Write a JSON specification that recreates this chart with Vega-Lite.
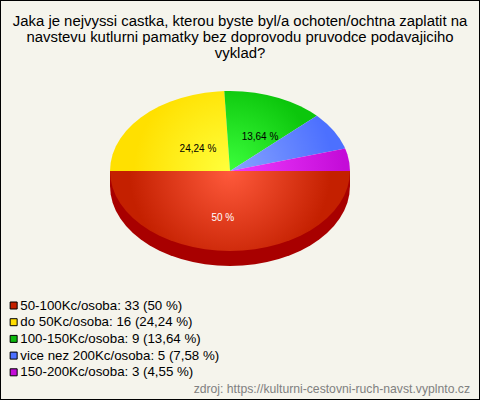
{
"$schema":"https://vega.github.io/schema/vega-lite/v6.json",
"width":480,"height":400,"padding":0,"autosize":"none",
"background":"#f5f4ec",
"config":{"view":{"stroke":"#000","strokeWidth":2},"font":"Liberation Sans"},
"title":{"text":["Jaka je nejvyssi castka, kterou byste byl/a ochoten/ochtna zaplatit na","navstevu kutlurni pamatky bez doprovodu pruvodce podavajiciho","vyklad?"],"anchor":"middle","frame":"group","offset":-61,"fontSize":14.9,"fontWeight":"normal","font":"Liberation Sans","color":"#000","lineHeight":16},
"datasets":{
"slices":[
{"slice":"a","name":"50-100Kc/osoba: 33 (50 %)","count":33,"pct":"50 %","u":-0.06,"v":-0.59},
{"slice":"b","name":"do 50Kc/osoba: 16 (24,24 %)","count":16,"pct":"24,24 %","u":-0.267,"v":0.275},
{"slice":"c","name":"100-150Kc/osoba: 9 (13,64 %)","count":9,"pct":"13,64 %","u":0.25,"v":0.425},
{"slice":"d","name":"vice nez 200Kc/osoba: 5 (7,58 %)","count":5,"pct":"","u":0.6,"v":0.2},
{"slice":"e","name":"150-200Kc/osoba: 3 (4,55 %)","count":3,"pct":"","u":0.7,"v":0.06}
],
"source":[{"t":"zdroj: https://kulturni-cestovni-ruch-navst.vyplnto.cz","u":2.0,"v":-2.73}],
"outline":[
{"s":"side","o":0,"u":-1,"v":0},{"s":"side","o":1,"u":-1,"v":-0.1875},{"s":"side","o":2,"u":-0.9945,"v":-0.292},{"s":"side","o":3,"u":-0.9781,"v":-0.3954},{"s":"side","o":4,"u":-0.9511,"v":-0.4965},{"s":"side","o":5,"u":-0.9135,"v":-0.5942},{"s":"side","o":6,"u":-0.866,"v":-0.6875},{"s":"side","o":7,"u":-0.809,"v":-0.7753},{"s":"side","o":8,"u":-0.7431,"v":-0.8566},{"s":"side","o":9,"u":-0.6691,"v":-0.9306},{"s":"side","o":10,"u":-0.5878,"v":-0.9965},{"s":"side","o":11,"u":-0.5,"v":-1.0535},{"s":"side","o":12,"u":-0.4067,"v":-1.101},{"s":"side","o":13,"u":-0.309,"v":-1.1386},{"s":"side","o":14,"u":-0.2079,"v":-1.1656},{"s":"side","o":15,"u":-0.1045,"v":-1.182},{"s":"side","o":16,"u":0,"v":-1.1875},{"s":"side","o":17,"u":0.1045,"v":-1.182},{"s":"side","o":18,"u":0.2079,"v":-1.1656},{"s":"side","o":19,"u":0.309,"v":-1.1386},{"s":"side","o":20,"u":0.4067,"v":-1.101},{"s":"side","o":21,"u":0.5,"v":-1.0535},{"s":"side","o":22,"u":0.5878,"v":-0.9965},{"s":"side","o":23,"u":0.6691,"v":-0.9306},{"s":"side","o":24,"u":0.7431,"v":-0.8566},{"s":"side","o":25,"u":0.809,"v":-0.7753},{"s":"side","o":26,"u":0.866,"v":-0.6875},{"s":"side","o":27,"u":0.9135,"v":-0.5942},{"s":"side","o":28,"u":0.9511,"v":-0.4965},{"s":"side","o":29,"u":0.9781,"v":-0.3954},{"s":"side","o":30,"u":0.9945,"v":-0.292},{"s":"side","o":31,"u":1,"v":-0.1875},{"s":"side","o":32,"u":1,"v":0},
{"s":"a","o":0,"u":-1,"v":0},{"s":"a","o":1,"u":-0.9945,"v":-0.1045},{"s":"a","o":2,"u":-0.9781,"v":-0.2079},{"s":"a","o":3,"u":-0.9511,"v":-0.309},{"s":"a","o":4,"u":-0.9135,"v":-0.4067},{"s":"a","o":5,"u":-0.866,"v":-0.5},{"s":"a","o":6,"u":-0.809,"v":-0.5878},{"s":"a","o":7,"u":-0.7431,"v":-0.6691},{"s":"a","o":8,"u":-0.6691,"v":-0.7431},{"s":"a","o":9,"u":-0.5878,"v":-0.809},{"s":"a","o":10,"u":-0.5,"v":-0.866},{"s":"a","o":11,"u":-0.4067,"v":-0.9135},{"s":"a","o":12,"u":-0.309,"v":-0.9511},{"s":"a","o":13,"u":-0.2079,"v":-0.9781},{"s":"a","o":14,"u":-0.1045,"v":-0.9945},{"s":"a","o":15,"u":0,"v":-1},{"s":"a","o":16,"u":0.1045,"v":-0.9945},{"s":"a","o":17,"u":0.2079,"v":-0.9781},{"s":"a","o":18,"u":0.309,"v":-0.9511},{"s":"a","o":19,"u":0.4067,"v":-0.9135},{"s":"a","o":20,"u":0.5,"v":-0.866},{"s":"a","o":21,"u":0.5878,"v":-0.809},{"s":"a","o":22,"u":0.6691,"v":-0.7431},{"s":"a","o":23,"u":0.7431,"v":-0.6691},{"s":"a","o":24,"u":0.809,"v":-0.5878},{"s":"a","o":25,"u":0.866,"v":-0.5},{"s":"a","o":26,"u":0.9135,"v":-0.4067},{"s":"a","o":27,"u":0.9511,"v":-0.309},{"s":"a","o":28,"u":0.9781,"v":-0.2079},{"s":"a","o":29,"u":0.9945,"v":-0.1045},{"s":"a","o":30,"u":1,"v":0},
{"s":"b","o":0,"u":0,"v":0},{"s":"b","o":1,"u":-0.0476,"v":0.9989},{"s":"b","o":2,"u":-0.1045,"v":0.9945},{"s":"b","o":3,"u":-0.2079,"v":0.9781},{"s":"b","o":4,"u":-0.309,"v":0.9511},{"s":"b","o":5,"u":-0.4067,"v":0.9135},{"s":"b","o":6,"u":-0.5,"v":0.866},{"s":"b","o":7,"u":-0.5878,"v":0.809},{"s":"b","o":8,"u":-0.6691,"v":0.7431},{"s":"b","o":9,"u":-0.7431,"v":0.6691},{"s":"b","o":10,"u":-0.809,"v":0.5878},{"s":"b","o":11,"u":-0.866,"v":0.5},{"s":"b","o":12,"u":-0.9135,"v":0.4067},{"s":"b","o":13,"u":-0.9511,"v":0.309},{"s":"b","o":14,"u":-0.9781,"v":0.2079},{"s":"b","o":15,"u":-0.9945,"v":0.1045},{"s":"b","o":16,"u":-1,"v":0},
{"s":"c","o":0,"u":0,"v":0},{"s":"c","o":1,"u":0.7237,"v":0.6901},{"s":"c","o":2,"u":0.6691,"v":0.7431},{"s":"c","o":3,"u":0.5878,"v":0.809},{"s":"c","o":4,"u":0.5,"v":0.866},{"s":"c","o":5,"u":0.4067,"v":0.9135},{"s":"c","o":6,"u":0.309,"v":0.9511},{"s":"c","o":7,"u":0.2079,"v":0.9781},{"s":"c","o":8,"u":0.1045,"v":0.9945},{"s":"c","o":9,"u":0,"v":1},{"s":"c","o":10,"u":-0.0476,"v":0.9989},
{"s":"d","o":0,"u":0,"v":0},{"s":"d","o":1,"u":0.9595,"v":0.2817},{"s":"d","o":2,"u":0.9511,"v":0.309},{"s":"d","o":3,"u":0.9135,"v":0.4067},{"s":"d","o":4,"u":0.866,"v":0.5},{"s":"d","o":5,"u":0.809,"v":0.5878},{"s":"d","o":6,"u":0.7431,"v":0.6691},{"s":"d","o":7,"u":0.7237,"v":0.6901},
{"s":"e","o":0,"u":0,"v":0},{"s":"e","o":1,"u":1,"v":0},{"s":"e","o":2,"u":0.9945,"v":0.1045},{"s":"e","o":3,"u":0.9781,"v":0.2079},{"s":"e","o":4,"u":0.9595,"v":0.2817}
]},
"encoding":{
"x":{"field":"u","type":"quantitative","axis":null,"scale":{"domain":[-1.91667,2.08333],"nice":false,"zero":false}},
"y":{"field":"v","type":"quantitative","axis":null,"scale":{"domain":[-2.8625,2.1375],"nice":false,"zero":false}}
},
"layer":[
{"data":{"name":"outline"},"transform":[{"filter":"datum.s==='side'"}],"mark":{"type":"line","fill":"#a80000","stroke":null,"clip":false},"encoding":{"order":{"field":"o","type":"quantitative"}}},
{"data":{"name":"outline"},"transform":[{"filter":"datum.s==='a'"}],"mark":{"type":"line","stroke":null,"fill":{"gradient":"radial","x1":0.5,"y1":0.333,"r1":0,"x2":0.5,"y2":0.333,"r2":0.42,"stops":[{"offset":0,"color":"#ff5a3c"},{"offset":1,"color":"#c42000"}]}},"encoding":{"order":{"field":"o","type":"quantitative"}}},
{"data":{"name":"outline"},"transform":[{"filter":"datum.s==='b'"}],"mark":{"type":"line","stroke":null,"fill":{"gradient":"radial","x1":1,"y1":0.833,"r1":0,"x2":1,"y2":0.833,"r2":0.8,"stops":[{"offset":0,"color":"#ffff3c"},{"offset":1,"color":"#ffe000"}]}},"encoding":{"order":{"field":"o","type":"quantitative"}}},
{"data":{"name":"outline"},"transform":[{"filter":"datum.s==='c'"}],"mark":{"type":"line","stroke":null,"fill":{"gradient":"radial","x1":0.0616,"y1":0.932,"r1":0,"x2":0.0616,"y2":0.932,"r2":0.95,"stops":[{"offset":0,"color":"#3cff3c"},{"offset":1,"color":"#0cc60c"}]}},"encoding":{"order":{"field":"o","type":"quantitative"}}},
{"data":{"name":"outline"},"transform":[{"filter":"datum.s==='d'"}],"mark":{"type":"line","stroke":null,"fill":{"gradient":"radial","x1":0,"y1":0.74,"r1":0,"x2":0,"y2":0.74,"r2":0.9,"stops":[{"offset":0,"color":"#88a4ff"},{"offset":1,"color":"#4c70ff"}]}},"encoding":{"order":{"field":"o","type":"quantitative"}}},
{"data":{"name":"outline"},"transform":[{"filter":"datum.s==='e'"}],"mark":{"type":"line","stroke":null,"fill":{"gradient":"radial","x1":0,"y1":0.594,"r1":0,"x2":0,"y2":0.594,"r2":0.95,"stops":[{"offset":0,"color":"#f03cff"},{"offset":1,"color":"#c40cd8"}]}},"encoding":{"order":{"field":"o","type":"quantitative"}}},
{"data":{"name":"slices"},"mark":{"type":"point","filled":true,"opacity":0},"encoding":{"color":{"field":"name","type":"nominal","scale":{"domain":["50-100Kc/osoba: 33 (50 %)","do 50Kc/osoba: 16 (24,24 %)","100-150Kc/osoba: 9 (13,64 %)","vice nez 200Kc/osoba: 5 (7,58 %)","150-200Kc/osoba: 3 (4,55 %)"],"range":["#c42000","#ffdd00","#0cb80c","#4c70ff","#c40cd8"]},"legend":{"title":null,"orient":"none","legendX":7,"legendY":299,"symbolType":"square","symbolSize":49,"symbolOpacity":1,"symbolStrokeColor":"#000","symbolStrokeWidth":1,"labelFont":"Liberation Sans","labelFontSize":13.3,"labelColor":"#000","labelLimit":400,"labelOffset":0,"rowPadding":2.7,"clipHeight":13,"symbolOffset":0,"columnPadding":0,"gridAlign":"each","labelBaseline":"middle","padding":0,"values":["50-100Kc/osoba: 33 (50 %)","do 50Kc/osoba: 16 (24,24 %)","100-150Kc/osoba: 9 (13,64 %)","vice nez 200Kc/osoba: 5 (7,58 %)","150-200Kc/osoba: 3 (4,55 %)"]}}}},
{"data":{"name":"slices"},"transform":[{"filter":"datum.pct!==''"}],"mark":{"type":"text","font":"Liberation Sans","fontSize":10,"align":"center","baseline":"middle"},"encoding":{"text":{"field":"pct"},"fill":{"condition":{"test":"datum.slice==='a'","value":"#fff"},"value":"#000"}}},
{"data":{"name":"source"},"mark":{"type":"text","font":"Liberation Sans","fontSize":12.2,"align":"right","baseline":"middle","fill":"#808080"},"encoding":{"text":{"field":"t"}}}
]
}
